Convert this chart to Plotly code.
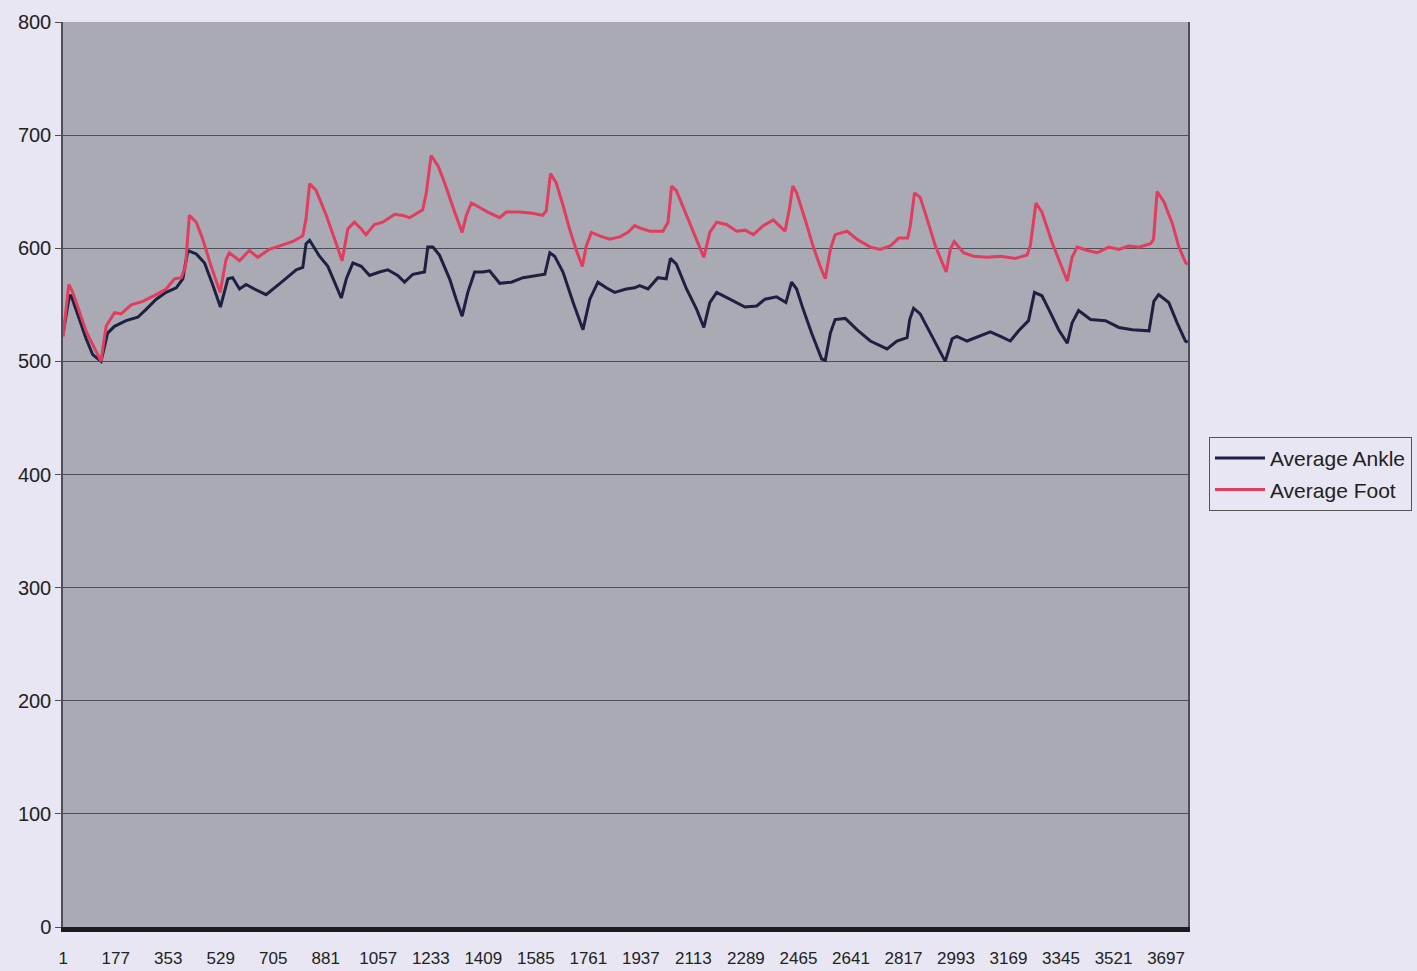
import plotly.graph_objects as go

# Sample indices and averaged readings for each sensor
ankle_idx = [1, 22, 28, 78, 100, 128, 150, 173, 212, 251, 279, 313, 346, 380, 402, 419, 447, 475,
             503, 528, 553, 569, 592, 614, 642, 681, 737, 782, 804, 815, 827, 860, 888, 916, 933,
             950, 972, 1000, 1028, 1061, 1089, 1122, 1145, 1173, 1212, 1223, 1240, 1262, 1279,
             1296, 1318, 1338, 1357, 1380, 1407, 1430, 1464, 1503, 1542, 1587, 1615, 1632, 1648,
             1676, 1710, 1743, 1766, 1793, 1821, 1849, 1888, 1916, 1933, 1961, 1994, 2022, 2036,
             2056, 2090, 2124, 2148, 2168, 2191, 2235, 2286, 2325, 2353, 2392, 2423, 2442, 2459,
             2481, 2509, 2543, 2555, 2572, 2588, 2622, 2661, 2706, 2762, 2795, 2829, 2838, 2851,
             2873, 2907, 2935, 2957, 2980, 2996, 3030, 3069, 3108, 3142, 3175, 3203, 3236, 3256,
             3281, 3304, 3337, 3366, 3382, 3404, 3444, 3494, 3539, 3584, 3640, 3656, 3672, 3706,
             3734, 3762, 3770]
ankle_val = [525, 558, 558, 520, 506, 500, 525, 531, 536, 539, 546, 555, 561, 565, 573, 598, 595, 587,
             567, 548, 573, 574, 564, 568, 564, 559, 571, 581, 583, 604, 607, 593, 584, 567, 556,
             573, 587, 584, 576, 579, 581, 576, 570, 577, 579, 601, 601, 594, 583,
             573, 555, 540, 561, 579, 579, 580, 569, 570, 574, 576, 577, 596, 593,
             579, 552, 528, 555, 570, 565, 561, 564, 565, 567, 564, 574, 573, 591,
             586, 564, 546, 530, 552, 561, 555, 548, 549, 555, 557, 552, 570, 564,
             546, 525, 502, 501, 525, 537, 538, 528, 518, 511, 518, 521, 537, 547,
             542, 525, 511, 500, 520, 522, 518, 522, 526, 522, 518, 527, 536, 561,
             558, 546, 528, 516, 534, 545, 537, 536, 530, 528, 527, 553, 559, 552,
             534, 518, 517]

foot_idx = [1, 20, 33, 79, 128, 145, 173, 195, 229, 268, 313, 346, 374, 397, 411, 424, 447, 469,
            497, 527, 547, 558, 592, 625, 653, 692, 737, 771, 804, 815, 827, 849, 883, 910, 936,
            955, 977, 1000, 1016, 1044, 1072, 1112, 1139, 1162, 1206, 1218, 1234, 1257, 1279,
            1313, 1338, 1352, 1369, 1397, 1424, 1464, 1486, 1531, 1574, 1608, 1620, 1634, 1653,
            1676, 1698, 1721, 1741, 1754, 1771, 1799, 1832, 1866, 1894, 1916, 1933, 1967, 2011,
            2028, 2040, 2056, 2090, 2124, 2148, 2168, 2191, 2224, 2258, 2286, 2314, 2347, 2381,
            2420, 2435, 2446, 2459, 2488, 2515, 2538, 2555, 2572, 2588, 2628, 2661, 2706, 2739,
            2773, 2801, 2831, 2840, 2854, 2873, 2896, 2924, 2960, 2974, 2987, 3018, 3052, 3097,
            3142, 3192, 3231, 3242, 3261, 3281, 3315, 3343, 3366, 3382, 3399, 3433, 3466, 3505,
            3539, 3572, 3606, 3645, 3655, 3667, 3690, 3718, 3740, 3763, 3770]
foot_val = [522, 568, 561, 526, 500, 531, 543, 542, 550, 553, 559, 564, 573, 574, 584, 629, 623, 608,
            584, 561, 590, 596, 589, 598, 592, 599, 603, 606, 611, 626, 657, 651, 629, 608, 589,
            617, 623, 617, 612, 621, 623, 630, 629, 627, 634, 649, 682, 673, 658,
            632, 614, 629, 640, 636, 632, 627, 632, 632, 631, 629, 633, 666, 658,
            638, 617, 598, 584, 602, 614, 611, 608, 610, 614, 620, 618, 615, 615,
            623, 655, 651, 629, 608, 592, 614, 623, 621, 615, 616, 612, 620, 625,
            615, 635, 655, 649, 625, 601, 584, 573, 599, 612, 615, 608, 601, 599,
            602, 609, 609, 620, 649, 645, 626, 602, 579, 599, 606, 596, 593, 592,
            593, 591, 594, 602, 640, 632, 605, 586, 571, 592, 601, 598, 596, 601,
            599, 602, 601, 604, 608, 650, 641, 622, 601, 587, 586]

tick_vals = [1, 177, 353, 529, 705, 881, 1057, 1233, 1409, 1585, 1761, 1937, 2113, 2289, 2465,
             2641, 2817, 2993, 3169, 3345, 3521, 3697]
y_ticks = [0, 100, 200, 300, 400, 500, 600, 700, 800]

page_bg = "#e7e6f2"
plot_bg = "#a9aab4"

fig = go.Figure()
fig.add_trace(go.Scatter(x=ankle_idx, y=ankle_val, mode="lines", name="Average Ankle",
                         legendgroup="ankle", line=dict(color="#1d2040", width=3)))
fig.add_trace(go.Scatter(x=foot_idx, y=foot_val, mode="lines", name="Average Foot",
                         legendgroup="foot", line=dict(color="#e23c5e", width=3)))

fig.update_layout(
    width=1417, height=971,
    margin=dict(l=63, r=229, t=22, b=44, autoexpand=False),
    paper_bgcolor=page_bg, plot_bgcolor=plot_bg,
    font=dict(family="Liberation Sans, Arial, sans-serif", color="#222222"),
    showlegend=True,
    legend=dict(xref="container", yref="container", x=0.8532, y=0.55,
                xanchor="left", yanchor="top",
                bgcolor=page_bg, bordercolor="#555555", borderwidth=1,
                font=dict(size=21, color="#222222"),
                traceorder="grouped", tracegroupgap=1, itemwidth=50),
)
fig.update_xaxes(
    range=[0.5, 3770.5], tickmode="array", tickvals=tick_vals,
    ticktext=[str(v) for v in tick_vals],
    tickfont=dict(size=17),
    showgrid=False, zeroline=False,
    showline=True, linecolor="#1e1a1e", linewidth=5,
    ticks="", ticklabelstandoff=12, automargin=False,
)
fig.update_yaxes(
    range=[0, 800], tickmode="array", tickvals=y_ticks,
    tickfont=dict(size=20), automargin=False,
    showgrid=True, gridcolor="#4e4e58", gridwidth=1, zeroline=False,
    showline=True, linecolor="#4e4e58", linewidth=1.5, mirror=True,
    ticks="outside", ticklen=6, tickcolor="#4e4e58",
)

fig.write_html("out.html")
